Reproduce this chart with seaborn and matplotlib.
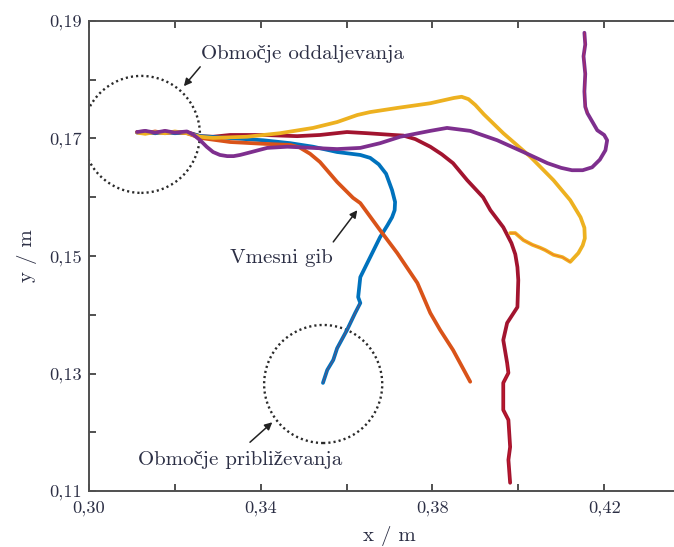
import numpy as np
import pandas as pd
import matplotlib
matplotlib.use("Agg")
import matplotlib.pyplot as plt
from matplotlib.patches import Ellipse
from matplotlib.ticker import FixedLocator, FuncFormatter
import seaborn as sns

# --- trajectories (x / m, y / m) ---------------------------------------
red_x = [0.3112, 0.3131, 0.3154, 0.3177, 0.3200, 0.3228, 0.3259, 0.3289, 0.3329,
         0.3406, 0.3485, 0.3538, 0.3601, 0.3648, 0.3709, 0.3732, 0.3760, 0.3795,
         0.3822, 0.3848, 0.3881, 0.3918, 0.3935, 0.3965, 0.3984, 0.3993, 0.3998,
         0.4000, 0.3998, 0.3974, 0.3965, 0.3974, 0.3977, 0.3965, 0.3965, 0.3977,
         0.3981, 0.3977, 0.3981]
red_y = [0.1711, 0.1712, 0.1709, 0.1712, 0.1710, 0.1711, 0.1704, 0.1703, 0.1706,
         0.1706, 0.1704, 0.1706, 0.1711, 0.1709, 0.1706, 0.1705, 0.1699, 0.1686,
         0.1673, 0.1658, 0.1629, 0.1600, 0.1578, 0.1549, 0.1522, 0.1503, 0.1481,
         0.1459, 0.1413, 0.1386, 0.1357, 0.1318, 0.1301, 0.1284, 0.1238, 0.1221,
         0.1175, 0.1153, 0.1114]

blue_x = [0.3112, 0.3131, 0.3154, 0.3177, 0.3200, 0.3228, 0.3259, 0.3406, 0.3469,
          0.3522, 0.3578, 0.3632, 0.3655, 0.3675, 0.3692, 0.3706, 0.3713, 0.3712,
          0.3706, 0.3695, 0.3678, 0.3655, 0.3632, 0.3627, 0.3632, 0.3620, 0.3601,
          0.3578, 0.3569, 0.3555, 0.3545]
blue_y = [0.1710, 0.1712, 0.1709, 0.1711, 0.1709, 0.1710, 0.1704, 0.1697, 0.1692,
          0.1686, 0.1677, 0.1672, 0.1667, 0.1656, 0.1640, 0.1612, 0.1592, 0.1578,
          0.1566, 0.1552, 0.1532, 0.1498, 0.1464, 0.1430, 0.1420, 0.1403, 0.1374,
          0.1343, 0.1323, 0.1306, 0.1284]

orange_x = [0.3112, 0.3131, 0.3154, 0.3177, 0.3200, 0.3228, 0.3259, 0.3329, 0.3406,
            0.3469, 0.3490, 0.3515, 0.3538, 0.3578, 0.3615, 0.3632, 0.3678, 0.3718,
            0.3765, 0.3795, 0.3818, 0.3848, 0.3888]
orange_y = [0.1711, 0.1709, 0.1712, 0.1709, 0.1711, 0.1709, 0.1701, 0.1694, 0.1691,
            0.1689, 0.1685, 0.1674, 0.1660, 0.1626, 0.1599, 0.1590, 0.1544, 0.1505,
            0.1454, 0.1403, 0.1374, 0.1340, 0.1286]

yellow_x = [0.3112, 0.3131, 0.3154, 0.3177, 0.3200, 0.3228, 0.3259, 0.3289, 0.3368,
            0.3445, 0.3522, 0.3578, 0.3625, 0.3655, 0.3718, 0.3795, 0.3850, 0.3868,
            0.3884, 0.3900, 0.3920, 0.3965, 0.4028, 0.4082, 0.4121, 0.4145, 0.4154,
            0.4155, 0.4150, 0.4140, 0.4121, 0.4103, 0.4082, 0.4063, 0.4051, 0.4033,
            0.4012, 0.3993, 0.3981]
yellow_y = [0.1710, 0.1708, 0.1711, 0.1709, 0.1712, 0.1709, 0.1703, 0.1701, 0.1703,
            0.1709, 0.1718, 0.1728, 0.1740, 0.1745, 0.1752, 0.1760, 0.1769, 0.1771,
            0.1767, 0.1757, 0.1741, 0.1709, 0.1669, 0.1629, 0.1595, 0.1566, 0.1548,
            0.1530, 0.1518, 0.1505, 0.1490, 0.1498, 0.1502, 0.1510, 0.1514, 0.1519,
            0.1527, 0.1539, 0.1539]

purple_x = [0.3112, 0.3131, 0.3154, 0.3177, 0.3200, 0.3228, 0.3244, 0.3259, 0.3274,
            0.3289, 0.3305, 0.3322, 0.3337, 0.3352, 0.3368, 0.3415, 0.3462, 0.3522,
            0.3578, 0.3632, 0.3678, 0.3725, 0.3795, 0.3834, 0.3888, 0.3951, 0.4012,
            0.4068, 0.4100, 0.4125, 0.4150, 0.4172, 0.4190, 0.4203, 0.4207, 0.4200,
            0.4184, 0.4161, 0.4156, 0.4154, 0.4156, 0.4152, 0.4156, 0.4154]
purple_y = [0.1711, 0.1713, 0.1710, 0.1713, 0.1710, 0.1712, 0.1706, 0.1697, 0.1686,
            0.1677, 0.1672, 0.1670, 0.1670, 0.1672, 0.1675, 0.1684, 0.1686, 0.1684,
            0.1682, 0.1684, 0.1692, 0.1703, 0.1713, 0.1718, 0.1713, 0.1697, 0.1677,
            0.1658, 0.1650, 0.1646, 0.1646, 0.1651, 0.1664, 0.1680, 0.1697, 0.1706,
            0.1714, 0.1743, 0.1754, 0.1780, 0.1810, 0.1840, 0.1860, 0.1880]

series = {
    "g5": (red_x, red_y),
    "g1": (blue_x, blue_y),
    "g2": (orange_x, orange_y),
    "g3": (yellow_x, yellow_y),
    "g4": (purple_x, purple_y),
}
palette = {"g1": "#0072BD", "g2": "#D95319", "g3": "#EDB120",
           "g4": "#7E2F8E", "g5": "#A2142F"}
# number of closing samples of each movement that belong to the approach phase
approach_len = {"g5": 8, "g1": 7, "g3": 9, "g4": 7}

x_ticks = [0.30, 0.32, 0.34, 0.36, 0.38, 0.40, 0.42]
x_labelled = [0.30, 0.34, 0.38, 0.42]
y_ticks = [0.11, 0.12, 0.13, 0.14, 0.15, 0.16, 0.17, 0.18, 0.19]
y_labelled = [0.11, 0.13, 0.15, 0.17, 0.19]

frames = [pd.DataFrame({"x": sx, "y": sy, "gib": k, "i": np.arange(len(sx))})
          for k, (sx, sy) in series.items()]
df = pd.concat(frames, ignore_index=True)

# --- style -------------------------------------------------------------
sns.set_style("ticks")
plt.rcParams["font.family"] = ["cmr10", "Liberation Serif", "DejaVu Serif"]
plt.rcParams["axes.formatter.use_mathtext"] = True
text_col = "#2c2f45"
spine_col = "#505050"

fig = plt.figure(figsize=(6.74, 5.47), dpi=100)
ax = fig.add_axes([89 / 674, 1 - 491 / 547, 601 / 674, 470 / 547])

sns.lineplot(data=df, x="x", y="y", hue="gib", hue_order=list(series.keys()),
             palette=palette, sort=False, estimator=None, units="gib",
             lw=2.7, legend=False, ax=ax, solid_capstyle="round",
             solid_joinstyle="round")

# thin overlay marking the approach phase of each movement
for k, n in approach_len.items():
    sx, sy = series[k]
    sns.lineplot(x=sx[-n:], y=sy[-n:], sort=False, estimator=None, ax=ax,
                 color="#ff2020", lw=0.7, alpha=0.4, legend=False)

ax.set_xlim(0.30, 0.44)
ax.set_ylim(0.11, 0.19)

def comma_fmt(labelled):
    def f(v, pos):
        for t in labelled:
            if abs(v - t) < 1e-6:
                return f"{v:.2f}".replace(".", ",")
        return ""
    return FuncFormatter(f)

ax.xaxis.set_major_locator(FixedLocator(x_ticks))
ax.yaxis.set_major_locator(FixedLocator(y_ticks))
ax.xaxis.set_major_formatter(comma_fmt(x_labelled))
ax.yaxis.set_major_formatter(comma_fmt(y_labelled))
ax.tick_params(direction="in", length=5, width=1.4, color=spine_col,
               labelsize=13.2, labelcolor=text_col, top=True, right=False)
ax.tick_params(axis="x", pad=7)
ax.tick_params(axis="y", pad=5)
for side in ["left", "bottom", "top"]:
    ax.spines[side].set_color(spine_col)
    ax.spines[side].set_linewidth(1.4)
ax.spines["right"].set_visible(False)

ax.set_xlabel("x / m", fontsize=15, color=text_col, labelpad=7)
ax.set_ylabel("y / m", fontsize=15, color=text_col, labelpad=9)

# --- regions and annotations -------------------------------------------
dot = dict(fill=False, ec="#2a2a2a", lw=1.7, ls=(0, (0.9, 1.3)))
ax.add_patch(Ellipse((0.3122, 0.1707), 0.02727, 0.01991, **dot))
ax.add_patch(Ellipse((0.35455, 0.12821), 0.02751, 0.02009, **dot))

arrow = dict(arrowstyle="-|>", color="#222222", lw=1.1, mutation_scale=11,
             shrinkA=0, shrinkB=0)
ax.annotate("", xy=(0.3221, 0.1789), xytext=(0.3259, 0.1822), arrowprops=arrow)
ax.annotate("", xy=(0.3625, 0.1578), xytext=(0.3569, 0.1524), arrowprops=arrow)
ax.annotate("", xy=(0.3427, 0.1217), xytext=(0.3375, 0.1183), arrowprops=arrow)

tkw = dict(fontsize=15, color=text_col, ha="left", va="baseline")
ax.text(0.3261, 0.18353, "Območje oddaljevanja", **tkw)
ax.text(0.3329, 0.14881, "Vmesni gib", **tkw)
ax.text(0.3114, 0.11443, "Območje približevanja", **tkw)

fig.savefig("out.png", dpi=100)
